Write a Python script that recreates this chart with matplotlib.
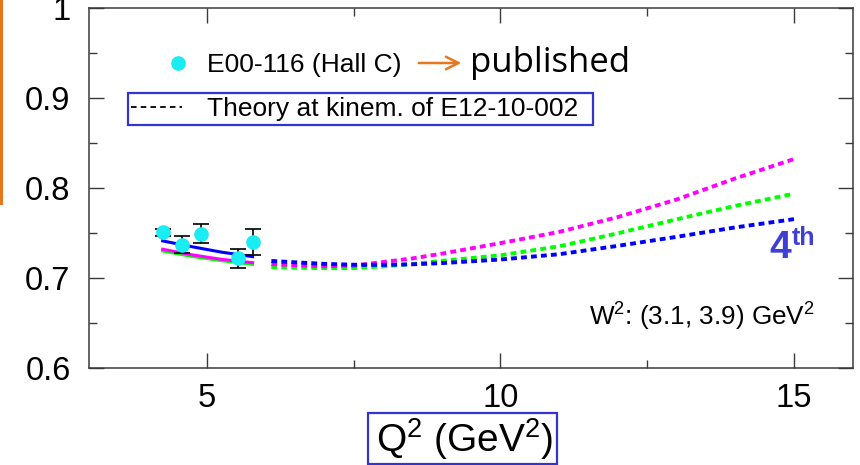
import matplotlib
matplotlib.use('Agg')
import matplotlib.pyplot as plt
from matplotlib.lines import Line2D
from matplotlib.patches import Rectangle
from matplotlib.ticker import MultipleLocator, FixedLocator, FixedFormatter

matplotlib.rcParams['font.family'] = ['Liberation Sans', 'DejaVu Sans']
matplotlib.rcParams['mathtext.fontset'] = 'custom'
matplotlib.rcParams['mathtext.rm'] = 'Liberation Sans'
matplotlib.rcParams['mathtext.default'] = 'regular'
matplotlib.rcParams['lines.scale_dashes'] = False

# E00-116 (Hall C) data points
q2_data = [4.26, 4.58, 4.90, 5.54, 5.78]
r_data = [0.7506, 0.7365, 0.749, 0.7217, 0.740]
r_err = [0.004, 0.0095, 0.0107, 0.0104, 0.0145]

# theory at the E00-116 kinematics (solid)
q2_low = [4.25, 4.75, 5.25, 5.78]
low_blue = [0.741, 0.7345, 0.7285, 0.7235]
low_magenta = [0.7317, 0.7255, 0.7205, 0.7168]
low_green = [0.7298, 0.7237, 0.719, 0.715]

# theory at the E12-10-002 kinematics (dashed)
q2_high = [6.1, 6.5, 7.0, 7.5, 8.0, 8.5, 9.0, 10.0, 11.0, 12.0, 13.0, 14.0, 15.0]
high_blue = [0.7187, 0.7172, 0.7155, 0.7145, 0.7143, 0.7150, 0.7163, 0.7203,
             0.7262, 0.7355, 0.7455, 0.7560, 0.7652]
high_magenta = [0.7152, 0.7140, 0.7128, 0.7135, 0.7175, 0.7215, 0.7268, 0.7385,
                0.7510, 0.7675, 0.7870, 0.8105, 0.8320]
high_green = [0.7118, 0.7112, 0.7107, 0.7108, 0.7126, 0.7152, 0.7188, 0.7250,
              0.7350, 0.7495, 0.7650, 0.7800, 0.7935]

yticks = [0.6, 0.7, 0.8, 0.9, 1.0]
ytick_labels = ['0.6', '0.7', '0.8', '0.9', '1']
xticks = [5, 10, 15]
xtick_labels = ['5', '10', '15']

W, H = 860, 465
def fx(px):
    return px / W
def fy(py):
    return 1 - py / H

fig = plt.figure(figsize=(8.6, 4.65), dpi=100)
ax = fig.add_axes([fx(89.3), fy(367.7), fx(852.7) - fx(89.3), fy(8) - fy(367.7)])

ax.plot(q2_low, low_green, '-', color='#00ff00', lw=2.2, zorder=2)
ax.plot(q2_low, low_magenta, '-', color='#ff00ff', lw=2.2, zorder=2)
ax.plot(q2_low, low_blue, '-', color='#0000ff', lw=2.2, zorder=2)

dash = (4.2, 3.0)
ax.plot(q2_high, high_green, color='#00ff00', lw=2.8, dashes=dash, zorder=2)
ax.plot(q2_high, high_magenta, color='#ff00ff', lw=2.8, dashes=dash, zorder=2)
ax.plot(q2_high, high_blue, color='#0000ff', lw=2.8, dashes=dash, zorder=2)

ax.errorbar(q2_data, r_data, yerr=r_err, fmt='none', ecolor='k', elinewidth=1.2,
            capsize=6, capthick=1.2, zorder=3)
ax.plot(q2_data, r_data, 'o', color='#19ecf2', markersize=9.5, zorder=4)

ax.set_xlim(3, 16)
ax.set_ylim(0.6, 1.0)
ax.xaxis.set_major_locator(FixedLocator(xticks))
ax.xaxis.set_major_formatter(FixedFormatter(xtick_labels))
ax.xaxis.set_minor_locator(MultipleLocator(2.5))
ax.yaxis.set_major_locator(FixedLocator(yticks))
ax.yaxis.set_major_formatter(FixedFormatter(ytick_labels))
ax.yaxis.set_minor_locator(MultipleLocator(0.05))
ax.tick_params(which='both', direction='in', top=True, right=True,
               color='#3a3a3a', width=1.0, labelsize=23.5)
ax.tick_params(which='major', length=10.8)
ax.tick_params(which='minor', length=5.8)
ax.tick_params(axis='y', pad=13.5)
ax.tick_params(axis='x', pad=11)
for s in ax.spines.values():
    s.set_color('#3a3a3a')
    s.set_linewidth(1.1)

ax.text(0.9506, 0.116, r'W$^2$: (3.1, 3.9) GeV$^2$', transform=ax.transAxes,
        ha='right', va='baseline', fontsize=18.8)

# 4th-order label
fig.text(fx(769), fy(258), '4', fontsize=28, fontweight='bold', color='#3f3fd6',
         va='baseline', ha='left')
fig.text(fx(792), fy(245), 'th', fontsize=18, fontweight='bold', color='#3f3fd6',
         va='baseline', ha='left')

# legend
fig.add_artist(Line2D([fx(178)], [fy(63)], marker='o', color='#19ecf2',
                      markersize=9.5, transform=fig.transFigure))
fig.text(fx(207), fy(72), 'E00-116 (Hall C)', fontsize=19, va='baseline')
fig.add_artist(Line2D([fx(131), fx(182)], [fy(107), fy(107)], color='k', lw=1.3,
                      dashes=(4, 3), transform=fig.transFigure))
fig.text(fx(207), fy(116), 'Theory at kinem. of E12-10-002', fontsize=19, va='baseline')
fig.add_artist(Rectangle((fx(128), fy(125)), fx(593) - fx(128), fy(93) - fy(125),
                         fill=False, ec='#3434d0', lw=1.6, transform=fig.transFigure))
ax.annotate('', xy=(fx(464), fy(63)), xytext=(fx(416), fy(63)), xycoords='figure fraction',
            arrowprops=dict(arrowstyle='->,head_length=0.9,head_width=0.45',
                            color='#e8761e', lw=1.8))
fig.text(fx(470), fy(72), 'published', fontsize=25, family='Open Sans', va='baseline')

# axis title in box
fig.text(fx(465), fy(452), r'Q$^2$ (GeV$^2$)', fontsize=28, ha='center', va='baseline')
fig.add_artist(Rectangle((fx(368), fy(464)), fx(557) - fx(368), fy(413) - fy(464),
                         fill=False, ec='#3434d0', lw=1.6, transform=fig.transFigure))

# side bar
fig.add_artist(Rectangle((0, fy(205)), fx(3), fy(0) - fy(205), color='#e8761e',
                         lw=0, transform=fig.transFigure))

fig.savefig('out.png', dpi=100)
